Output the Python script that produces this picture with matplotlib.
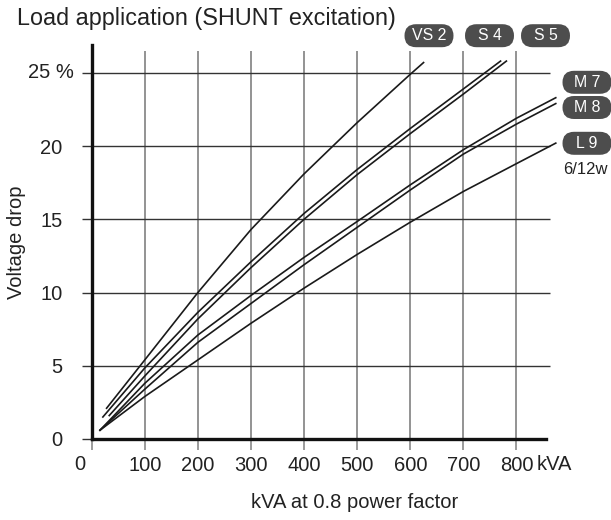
import matplotlib
matplotlib.use('Agg')
import matplotlib.pyplot as plt
from matplotlib.patches import FancyBboxPatch
from matplotlib.transforms import IdentityTransform

plt.rcParams['font.family'] = ['Liberation Sans', 'DejaVu Sans']

# voltage drop (%) against kVA at 0.8 pf
vs2_kva = [28, 100, 200, 300, 400, 500, 600, 625]
vs2_drop = [2.1, 5.4, 10, 14.3, 18.1, 21.6, 24.9, 25.7]
s4_kva = [21, 100, 200, 300, 400, 500, 600, 700, 770]
s4_drop = [1.5, 4.85, 8.65, 12.1, 15.4, 18.4, 21.2, 23.9, 25.8]
s5_kva = [33, 100, 200, 300, 400, 500, 600, 700, 781]
s5_drop = [1.6, 4.3, 8.2, 11.7, 15.0, 18.05, 20.85, 23.55, 25.8]
m7_kva = [15.6, 100, 200, 300, 400, 500, 600, 700, 800, 874]
m7_drop = [0.6, 3.8, 7.1, 9.8, 12.4, 14.85, 17.35, 19.75, 21.9, 23.3]
m8_kva = [15.6, 100, 200, 300, 400, 500, 600, 700, 800, 874]
m8_drop = [0.6, 3.4, 6.6, 9.25, 11.9, 14.45, 17.0, 19.45, 21.5, 22.9]
l9_kva = [15.6, 100, 200, 300, 400, 500, 600, 700, 800, 874]
l9_drop = [0.6, 2.9, 5.4, 7.9, 10.3, 12.6, 14.8, 16.9, 18.8, 20.2]

x_ticks = [0, 100, 200, 300, 400, 500, 600, 700, 800]
y_ticks = [0, 5, 10, 15, 20, 25]
top_badges = ['VS 2', 'S 4', 'S 5']
side_badges = ['M 7', 'M 8', 'L 9']

txt = '#222222'
fig = plt.figure(figsize=(6.11, 5.2), dpi=100)
ax = fig.add_axes([0.1501, 0.1558, 0.743, 0.7577])
ax.set_xlim(0, 855)
ax.set_ylim(0, 26.9)

# grid drawn by hand so lines can run past the frame like the original
ax.vlines(x_ticks[1:], 0, 26.5, colors='#808080', lw=1.2, clip_on=False, zorder=1)
ax.hlines(y_ticks[1:], 0, 864, colors='#333333', lw=1.0, clip_on=False, zorder=1)

for xs, ys in [(vs2_kva, vs2_drop), (s4_kva, s4_drop), (s5_kva, s5_drop),
               (m7_kva, m7_drop), (m8_kva, m8_drop), (l9_kva, l9_drop)]:
    ax.plot(xs, ys, color='#1a1a1a', lw=1.2, clip_on=False, zorder=3)

for s in ['top', 'right']:
    ax.spines[s].set_visible(False)
for s in ['left', 'bottom']:
    ax.spines[s].set_linewidth(2.4)
    ax.spines[s].set_color('#111111')
    ax.spines[s].set_zorder(4)

ax.set_xticks(x_ticks)
ax.set_xticklabels([''] + [str(v) for v in x_ticks[1:]])
ax.set_yticks(y_ticks)
ax.set_yticklabels([str(v) for v in y_ticks[:-1]] + [''])
ax.tick_params(axis='x', length=8, width=1.1, color='#808080', pad=4,
               labelsize=14.5, labelcolor=txt)
ax.tick_params(axis='y', length=7.2, width=1.0, color='#333333', pad=14,
               labelsize=14.5, labelcolor=txt)

# odd labels: "0" set left of the tick, unit after 800 and 25
ax.annotate('0', xy=(0, 0), xycoords=('data', 'axes fraction'), xytext=(-12, -26),
            textcoords='offset pixels', ha='center', va='center', fontsize=14.5, color=txt)
ax.annotate('kVA', xy=(800, 0), xycoords=('data', 'axes fraction'), xytext=(20, -26),
            textcoords='offset pixels', ha='left', va='center', fontsize=14.5, color=txt)
ax.annotate('25 %', xy=(0, 25), xytext=(-17.7, 0), textcoords='offset pixels',
            ha='right', va='center', fontsize=14.5, color=txt)

ax.set_xlabel('kVA at 0.8 power factor', fontsize=14.5, color=txt, va='center')
ax.xaxis.set_label_coords(0.58, -0.162)
ax.set_ylabel('Voltage drop', fontsize=14.5, color=txt, va='center')
ax.yaxis.set_label_coords(-0.165, 0.5)

fig.text(17 / 611, 1 - 19 / 520, 'Load application (SHUNT excitation)',
         fontsize=16.8, color=txt, ha='left', va='center')

H = 520


def badge(label, cx, cy, w=49, h=23):
    box = FancyBboxPatch((cx - w / 2, H - cy - h / 2), w, h,
                         boxstyle='round,pad=0,rounding_size=11.5',
                         transform=IdentityTransform(), fc='#4d4d4d', ec='none')
    fig.add_artist(box)
    fig.text(cx / 611, 1 - cy / 520, label, color='white', fontsize=11.4,
             ha='center', va='center')


for label, cx in zip(top_badges, [429, 489.5, 545.5]):
    badge(label, cx, 35.7)
for label, cy in zip(side_badges, [82.3, 107.5, 143.3]):
    badge(label, 587, cy)
fig.text(585 / 611, 1 - 170 / 520, '6/12w', color=txt, fontsize=12,
         ha='center', va='center')

fig.savefig('out.png', dpi=100)
